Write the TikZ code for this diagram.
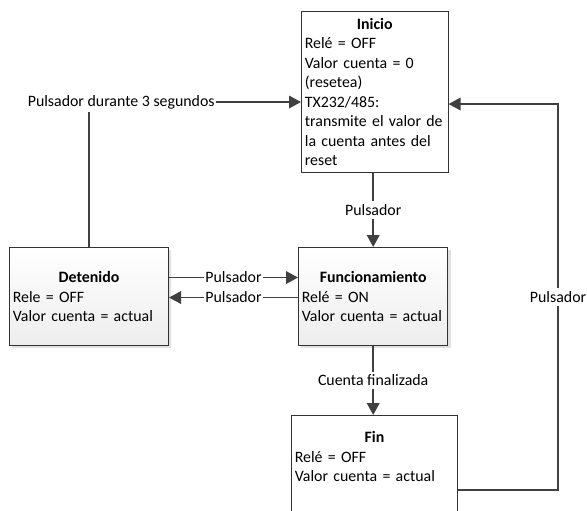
\documentclass[tikz,border=0pt]{standalone}
\usepackage{fontspec}
\setmainfont{Carlito}
\usetikzlibrary{arrows.meta,shadows}

\begin{document}
\begin{tikzpicture}[x=0.75pt, y=-0.75pt,
    font=\fontsize{11.9pt}{14.6pt}\selectfont,
    estado/.style={draw=black!80, line width=0.8pt, anchor=north west,
      inner xsep=2.5pt, align=left, fill=white},
    sombreado/.style={top color=white, bottom color=black!7,
      drop shadow={shadow xshift=2pt, shadow yshift=-2pt, fill=black!12, opacity=1}},
    linea/.style={draw=black!75, line width=1.1pt, -{Triangle[length=9pt,width=9.5pt]}},
    etiqueta/.style={fill=white, inner xsep=1pt, inner ysep=2.5pt}
    ]
    \useasboundingbox (0,0) rectangle (587,511);
    \clip (0,0) rectangle (587,511);
    \node[estado, text width=104.9pt, minimum height=120.75pt] (inicio) at (301,11)
      {\hfill\textbf{Inicio}\hfill\null\\
       Relé = OFF\\
       Valor cuenta = 0\\
       (resetea)\\
       TX232/485:\\
       transmite el valor de\\
       la cuenta antes del\\
       reset};
    \node[estado, sombreado, text width=114.25pt, minimum height=73.5pt] (detenido) at (9,247)
      {\hfill\textbf{Detenido}\hfill\null\\
       Rele = OFF\\
       Valor cuenta = actual};
    \node[estado, sombreado, text width=107pt, minimum height=73.5pt] (funcionamiento) at (298,247)
      {\hfill\textbf{Funcionamiento}\hfill\null\\
       Relé = ON\\
       Valor cuenta = actual};
    \node[estado, text width=119.5pt, inner ysep=12pt, text depth=60pt] (fin) at (291,415)
      {\hfill\textbf{Fin}\hfill\null\\
       Relé = OFF\\
       Valor cuenta = actual};
    \draw[linea] (funcionamiento.north |- inicio.south) -- node[etiqueta] {Pulsador} (funcionamiento.north);
    \draw[linea] ([yshift=14.25pt]detenido.east) -- node[etiqueta] {Pulsador}
      ([yshift=14.25pt]detenido.east -| funcionamiento.west);
    \draw[linea] ([yshift=-0.75pt]funcionamiento.west) -- node[etiqueta] {Pulsador}
      ([yshift=-0.75pt]funcionamiento.west -| detenido.east);
    \draw[linea] (funcionamiento.south) -- node[etiqueta] {Cuenta finalizada}
      (funcionamiento.south |- fin.north);
    \draw[linea] ([yshift=-56.25pt]fin.north east) -- ++(100,0)
      |- node[etiqueta, pos=0.25] {Pulsador} ([yshift=-9pt]inicio.east);
    \draw[linea] (detenido.north) |- node[etiqueta, pos=0.576] {Pulsador durante 3 segundos}
      ([yshift=-7.5pt]inicio.west);
\end{tikzpicture}
\end{document}
